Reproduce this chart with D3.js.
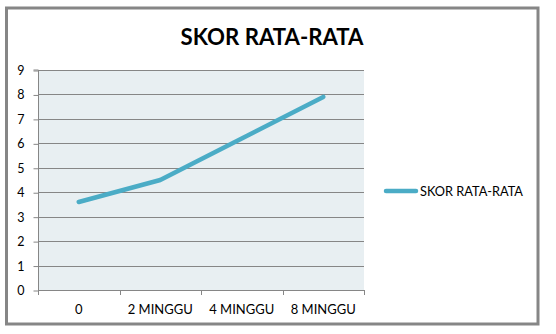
<!DOCTYPE html>
<html><head><meta charset="utf-8">
<script src="https://cdn.jsdelivr.net/npm/d3@7"></script>
<style>body{margin:0;background:#fff;} svg{display:block;}</style>
</head><body>
<script>
const categories = ["0", "2 MINGGU", "4 MINGGU", "8 MINGGU"];
const values = [3.6, 4.5, 6.2, 7.9];
const yTicks = [0,1,2,3,4,5,6,7,8,9];
const seriesName = "SKOR RATA-RATA";
const title = "SKOR RATA-RATA";

(function(){
const W = 556, H = 334;
const font = "Lato, 'Liberation Sans', Arial, sans-serif";
const svg = d3.select("body").append("svg").attr("width", W).attr("height", H);

svg.append("rect").attr("x", 6.5).attr("y", 8).attr("width", 531.5).attr("height", 316)
  .attr("fill", "#fff").attr("stroke", "#868686").attr("stroke-width", 3);

const pL = 38, pR = 364, pT = 70, pB = 290;
const x = d3.scaleBand().domain(categories).range([pL, pR]);
const y = d3.scaleLinear().domain([0, 9]).range([pB, pT]);

svg.append("rect").attr("x", pL).attr("y", pT).attr("width", pR-pL).attr("height", pB-pT)
  .attr("fill", "#e8eff2");

svg.append("g").selectAll("line").data(yTicks.filter(d => d > 0)).join("line")
  .attr("x1", pL).attr("x2", pR).attr("y1", d => Math.round(y(d))+0.5).attr("y2", d => Math.round(y(d))+0.5)
  .attr("stroke", "#868686").attr("stroke-width", 1);

const ya = svg.append("g").attr("transform", `translate(${pL+0.5},0.5)`)
  .call(d3.axisLeft(y).tickValues(yTicks).tickSize(5).tickPadding(9).tickFormat(d3.format("d")));
ya.select(".domain").attr("stroke", "#868686").attr("d", `M-5,${pT-0.5}H0V${pB-0.5}`);
ya.selectAll(".tick line").attr("stroke", "#868686");
ya.selectAll(".tick text").attr("font-family", font).attr("font-size", 12.5).attr("fill", "#000");

const xa = svg.append("g").attr("transform", `translate(0,${pB+0.5})`)
  .call(d3.axisBottom(x).tickSize(0).tickPadding(14));
xa.select(".domain").attr("stroke", "#868686").attr("d", `M${pL},0H${pR}`);
xa.selectAll(".tick text").attr("font-family", font).attr("font-size", 13).attr("fill", "#000");
svg.append("g").selectAll("line").data(d3.range(categories.length+1)).join("line")
  .attr("x1", i => Math.round(pL + i*x.step())+0.5).attr("x2", i => Math.round(pL + i*x.step())+0.5)
  .attr("y1", pB).attr("y2", pB+5).attr("stroke", "#868686");

const line = d3.line().x((d,i) => x(categories[i]) + x.bandwidth()/2).y(d => y(d));
svg.append("path").datum(values).attr("d", line).attr("fill", "none")
  .attr("stroke", "#4bacc6").attr("stroke-width", 4.5).attr("stroke-linecap", "round").attr("stroke-linejoin", "round");

svg.append("text").attr("x", 272).attr("y", 44.5).attr("text-anchor", "middle")
  .attr("font-family", font).attr("font-weight", "bold").attr("font-size", 22.5)
  .attr("textLength", 183).attr("lengthAdjust", "spacingAndGlyphs").text(title);

svg.append("line").attr("x1", 386).attr("x2", 416).attr("y1", 191).attr("y2", 191)
  .attr("stroke", "#4bacc6").attr("stroke-width", 4.5).attr("stroke-linecap", "round");
svg.append("text").attr("x", 420).attr("y", 195.5).attr("font-family", font).attr("font-size", 12.5)
  .attr("textLength", 103).attr("lengthAdjust", "spacingAndGlyphs").text(seriesName);
})();
</script>
</body></html>
